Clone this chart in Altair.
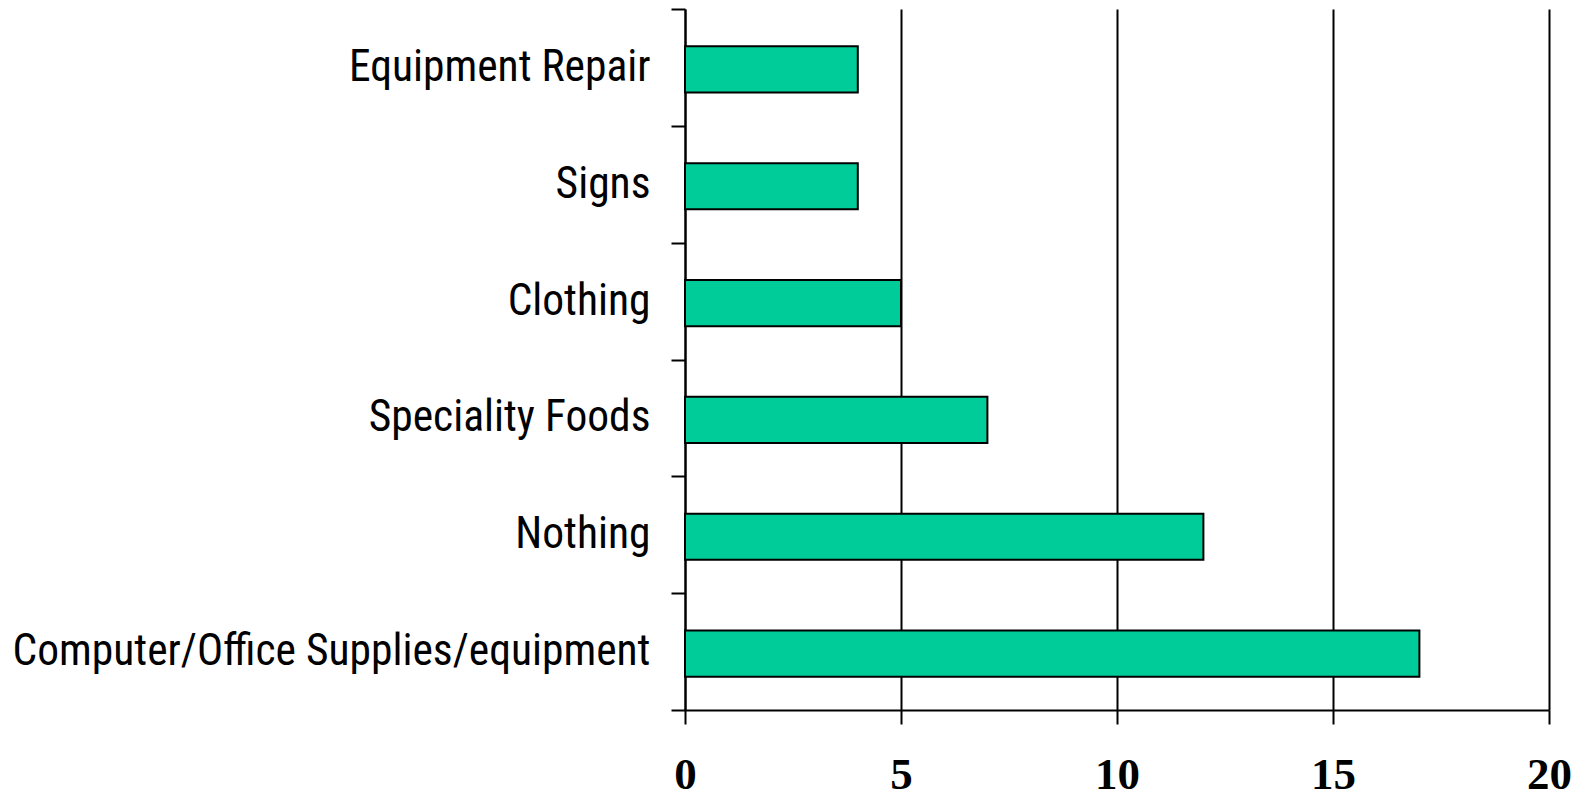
import altair as alt
import pandas as pd

categories = ["Equipment Repair", "Signs", "Clothing", "Speciality Foods", "Nothing",
              "Computer/Office Supplies/equipment"]
values = [4, 4, 5, 7, 12, 17]
x_ticks = [0, 5, 10, 15, 20]

df = pd.DataFrame({"category": categories, "value": values})

chart = alt.Chart(df).mark_bar(
    height=alt.RelativeBandSize(0.395),
    yOffset=2,
    color="#00CC99",
    stroke="black",
    strokeWidth=2,
).encode(
    x=alt.X("value:Q",
            scale=alt.Scale(domain=[0, 20], nice=False),
            axis=alt.Axis(values=x_ticks, title=None, grid=True, gridColor="black",
                          gridWidth=2, gridOpacity=1, domain=True, domainColor="black",
                          domainWidth=2, tickColor="black", tickWidth=2, tickSize=14,
                          labelFont="Liberation Serif", labelFontWeight="bold",
                          labelFontSize=45, labelColor="black", labelPadding=64,
                          labelBaseline="alphabetic", labelFlush=False)),
    y=alt.Y("category:N", sort=categories,
            scale=alt.Scale(paddingInner=0, paddingOuter=0),
            axis=alt.Axis(title=None, tickBand="extent", grid=False, domain=True,
                          domainColor="black", domainWidth=2, tickColor="black",
                          tickWidth=2, tickSize=14,
                          labelFont="Roboto Condensed",
                          labelFontSize=43.5, labelColor="black", labelPadding=21,
                          labelLimit=0)),
).properties(
    width=864,
    height=701,
    autosize=alt.AutoSizeParams(type="none"),
    padding={"left": 677, "top": 1, "right": 28, "bottom": 80},
).configure_view(stroke=None)

chart.save("out.html", embed_options={"renderer": "svg", "actions": False})
